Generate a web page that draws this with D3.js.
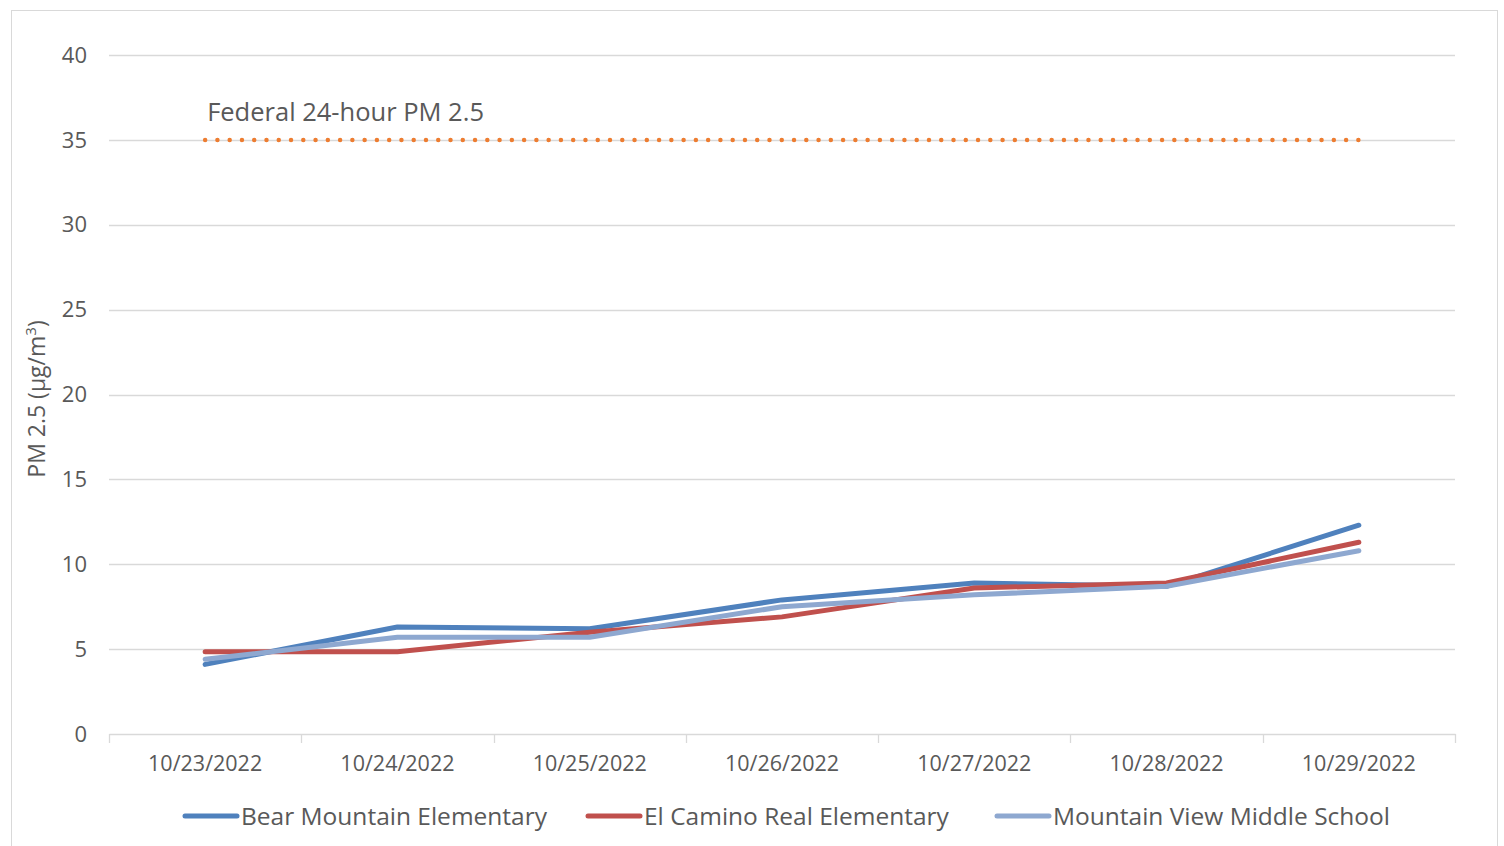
<!DOCTYPE html>
<html>
<head>
<meta charset="utf-8">
<script src="https://cdn.jsdelivr.net/npm/d3@7"></script>
<style>
  body { margin: 0; background: #fff; }
  svg text { font-family: "Open Sans", sans-serif; fill: #595959; }
</style>
</head>
<body>
<svg id="chart" width="1504" height="846"></svg>
<script>
// chart data
const dates = ['10/23/2022', '10/24/2022', '10/25/2022', '10/26/2022', '10/27/2022', '10/28/2022', '10/29/2022'];
const bearMountain = [4.1, 6.3, 6.2, 7.9, 8.9, 8.7, 12.3];
const elCamino = [4.85, 4.85, 6.0, 6.9, 8.6, 8.9, 11.3];
const mountainView = [4.4, 5.7, 5.7, 7.5, 8.2, 8.7, 10.8];
const federalLimit = [35, 35, 35, 35, 35, 35, 35];
const yTicks = [0, 5, 10, 15, 20, 25, 30, 35, 40];

const series = [
  { name: 'Bear Mountain Elementary', values: bearMountain, color: '#4F81BD' },
  { name: 'El Camino Real Elementary', values: elCamino, color: '#C0504D' },
  { name: 'Mountain View Middle School', values: mountainView, color: '#8EA8D0' }
];

const svg = d3.select('#chart');
const margin = { top: 55, right: 49, bottom: 112, left: 109 };
const width = 1504 - margin.left - margin.right;
const height = 846 - margin.top - margin.bottom;

// outer chart border
svg.append('rect')
  .attr('x', 11.5).attr('y', 10.5)
  .attr('width', 1486).attr('height', 850)
  .attr('fill', 'none')
  .attr('stroke', '#D9D9D9');

const g = svg.append('g').attr('transform', `translate(${margin.left},${margin.top})`);

const x = d3.scaleBand().domain(dates).range([0, width]);
const y = d3.scaleLinear().domain([0, 40]).range([height, 0]);

// gridlines
g.selectAll('.grid')
  .data(yTicks.filter(d => d > 0))
  .enter()
  .append('line')
  .attr('x1', 0).attr('x2', width)
  .attr('y1', d => Math.round(y(d)) + 0.5)
  .attr('y2', d => Math.round(y(d)) + 0.5)
  .attr('stroke', '#D9D9D9')
  .attr('stroke-width', 1.3);

// y tick labels
g.selectAll('.ylab')
  .data(yTicks)
  .enter()
  .append('text')
  .attr('x', -22)
  .attr('y', d => y(d))
  .attr('dy', '0.35em')
  .attr('text-anchor', 'end')
  .style('font-size', '22px')
  .text(d => d);

// x axis
const xAxis = g.append('g')
  .attr('transform', `translate(0,${height})`)
  .call(d3.axisBottom(x).tickSize(0).tickPadding(22));
xAxis.select('.domain').attr('stroke', '#D9D9D9').attr('stroke-width', 1.3);
xAxis.selectAll('text')
  .style('font-family', '"Open Sans", sans-serif')
  .style('font-size', '21.5px')
  .attr('fill', '#595959');

// category boundary ticks
const bounds = dates.map(d => x(d)).concat([width]);
g.selectAll('.xtick')
  .data(bounds)
  .enter()
  .append('line')
  .attr('x1', d => Math.round(d) + 0.5).attr('x2', d => Math.round(d) + 0.5)
  .attr('y1', height).attr('y2', height + 9)
  .attr('stroke', '#D9D9D9')
  .attr('stroke-width', 1.3);

const line = d3.line()
  .x((d, i) => x(dates[i]) + x.bandwidth() / 2)
  .y(d => y(d));

// federal 24-hour standard
const fedSpan = x.bandwidth() * (dates.length - 1);
g.append('path')
  .datum(federalLimit)
  .attr('d', line)
  .attr('fill', 'none')
  .attr('stroke', '#ED7D31')
  .attr('stroke-width', 4.5)
  .attr('stroke-linecap', 'round')
  .attr('stroke-dasharray', `0 ${(fedSpan - 0.5) / 94}`);

g.append('text')
  .attr('x', x(dates[0]) + x.bandwidth() / 2 + 2)
  .attr('y', y(35) - 19)
  .style('font-size', '25.5px')
  .text('Federal 24-hour PM 2.5');

// series lines
series.forEach(s => {
  g.append('path')
    .datum(s.values)
    .attr('d', line)
    .attr('fill', 'none')
    .attr('stroke', s.color)
    .attr('stroke-width', 5)
    .attr('stroke-linecap', 'round')
    .attr('stroke-linejoin', 'round');
});

// y axis title
svg.append('text')
  .attr('transform', 'translate(45,399) rotate(-90)')
  .attr('text-anchor', 'middle')
  .style('font-size', '23px')
  .html('PM 2.5 (µg/m<tspan dy="-9" style="font-size:15px">3</tspan><tspan dy="9">)</tspan>');

// legend
const legendX = [185, 588, 997];
const legend = svg.selectAll('.legend')
  .data(series)
  .enter()
  .append('g')
  .attr('transform', (d, i) => `translate(${legendX[i]},816)`);
legend.append('line')
  .attr('x1', 0).attr('x2', 52)
  .attr('stroke', d => d.color)
  .attr('stroke-width', 5)
  .attr('stroke-linecap', 'round');
legend.append('text')
  .attr('x', 56)
  .attr('dy', '0.35em')
  .style('font-size', '24.5px')
  .text(d => d.name);
</script>
</body>
</html>
